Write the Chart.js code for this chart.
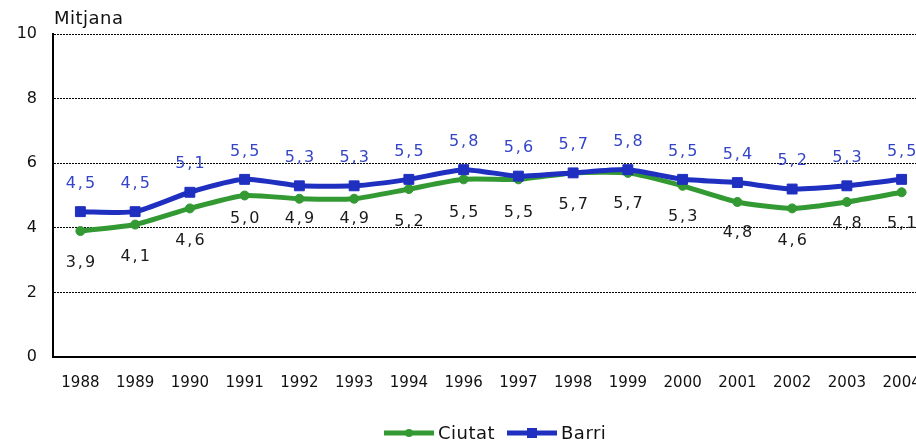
<!DOCTYPE html>
<html><head><meta charset="utf-8">
<script src="https://cdn.jsdelivr.net/npm/chart.js@4.4.1/dist/chart.umd.min.js"></script>
<style>
html,body{margin:0;padding:0;overflow:hidden;background:#fff;width:916px;height:444px}
canvas{display:block}
</style></head>
<body><canvas id="c" width="937" height="444" style="width:937px;height:444px"></canvas>
<script>
// ---- data ----
const years = ['1988','1989','1990','1991','1992','1993','1994','1996','1997','1998','1999','2000','2001','2002','2003','2004'];
const ciutat = [3.9, 4.1, 4.6, 5.0, 4.9, 4.9, 5.2, 5.5, 5.5, 5.7, 5.7, 5.3, 4.8, 4.6, 4.8, 5.1];
const barri  = [4.5, 4.5, 5.1, 5.5, 5.3, 5.3, 5.5, 5.8, 5.6, 5.7, 5.8, 5.5, 5.4, 5.2, 5.3, 5.5];
const seriesNames = ['Ciutat', 'Barri'];
const yTickValues = [0, 2, 4, 6, 8, 10];
const yAxisTitle = 'Mitjana';

// ---- styles ----
const FONT = '"DejaVu Sans", Verdana, sans-serif';
const GREEN = '#339933';
const BLUE = '#1f2fbf';
const BLUE_LABEL = '#3444c8';
const ciutatLabelDy = [32,32,32,23,20,20,33,33,33,32,31,31,31,32,22,32];
const barriLabelDy = -28;

const fmt = v => v.toFixed(1).replace('.', ',');

const labelPlugin = {
  id: 'valueLabels',
  afterDatasetsDraw(chart) {
    const ctx = chart.ctx;
    ctx.save();
    ctx.font = '16px ' + FONT;
    ctx.textAlign = 'center';
    ctx.textBaseline = 'middle';
    try { ctx.letterSpacing = '2px'; } catch (e) {}
    chart.data.datasets.forEach((ds, i) => {
      const meta = chart.getDatasetMeta(i);
      meta.data.forEach((pt, j) => {
        const dy = Array.isArray(ds.labelDy) ? ds.labelDy[j] : ds.labelDy;
        ctx.fillStyle = ds.labelColor;
        ctx.fillText(fmt(ds.data[j]), pt.x + 1, pt.y + dy);
      });
    });
    ctx.restore();
  }
};

const extrasPlugin = {
  id: 'extras',
  afterDraw(chart) {
    const ctx = chart.ctx;
    const a = chart.chartArea;
    ctx.save();
    // axis title
    ctx.font = '18px ' + FONT;
    ctx.fillStyle = '#111';
    ctx.textAlign = 'left';
    ctx.textBaseline = 'middle';
    try { ctx.letterSpacing = '0.5px'; } catch (e) {}
    ctx.fillText(yAxisTitle, a.left + 1, 19);
    // legend
    const ly = 433;
    const items = [
      {x: 384, color: GREEN, style: 'circle', text: seriesNames[0]},
      {x: 507, color: BLUE, style: 'rect', text: seriesNames[1]}
    ];
    items.forEach(it => {
      ctx.strokeStyle = it.color;
      ctx.lineWidth = 5;
      ctx.beginPath();
      ctx.moveTo(it.x, ly);
      ctx.lineTo(it.x + 50, ly);
      ctx.stroke();
      ctx.fillStyle = it.color;
      const cx = it.x + 25;
      if (it.style === 'circle') {
        ctx.beginPath(); ctx.arc(cx, ly, 4, 0, Math.PI * 2); ctx.fill();
      } else {
        ctx.fillRect(cx - 5, ly - 5, 10, 10);
      }
      ctx.fillStyle = '#111';
      ctx.font = '18px ' + FONT;
      ctx.textAlign = 'left';
      ctx.fillText(it.text, it.x + 54, ly + 1);
    });
    ctx.restore();
  }
};

new Chart(document.getElementById('c'), {
  type: 'line',
  data: {
    labels: years,
    datasets: [
      {
        label: seriesNames[0], data: ciutat, order: 1,
        borderColor: GREEN, backgroundColor: GREEN, borderWidth: 5,
        pointStyle: 'circle', pointRadius: 4.5, pointBorderWidth: 1,
        pointBackgroundColor: GREEN, pointBorderColor: GREEN,
        tension: 0.2, labelDy: ciutatLabelDy, labelColor: '#1a1a1a'
      },
      {
        label: seriesNames[1], data: barri, order: 0,
        borderColor: BLUE, backgroundColor: BLUE, borderWidth: 5,
        pointStyle: 'rect', pointRadius: 7, pointBorderWidth: 1,
        pointBackgroundColor: BLUE, pointBorderColor: BLUE,
        tension: 0.2, labelDy: barriLabelDy, labelColor: BLUE_LABEL
      }
    ]
  },
  options: {
    responsive: false,
    animation: false,
    devicePixelRatio: 1,
    layout: { padding: { left: 0, top: 34, right: 3, bottom: 0 } },
    plugins: { legend: { display: false }, tooltip: { enabled: false } },
    scales: {
      x: {
        offset: true,
        grid: { display: false, drawTicks: false },
        border: { display: true, color: '#000', width: 2 },
        ticks: { color: '#111', font: { family: FONT, size: 15 }, padding: 17, maxRotation: 0, autoSkip: false },
        afterFit(s) { s.height = 87; s.paddingLeft = 0; s.paddingRight = 0; }
      },
      y: {
        min: 0, max: 10,
        afterBuildTicks(s) { s.ticks = yTickValues.map(v => ({ value: v })); },
        grid: { color: '#000', lineWidth: 1, drawTicks: false },
        border: { display: true, color: '#000', width: 2, dash: [2, 1] },
        ticks: { color: '#111', font: { family: FONT, size: 16 }, padding: 16 },
        afterFit(s) { s.width = 53; }
      }
    }
  },
  plugins: [labelPlugin, extrasPlugin]
});
</script>
</body></html>
